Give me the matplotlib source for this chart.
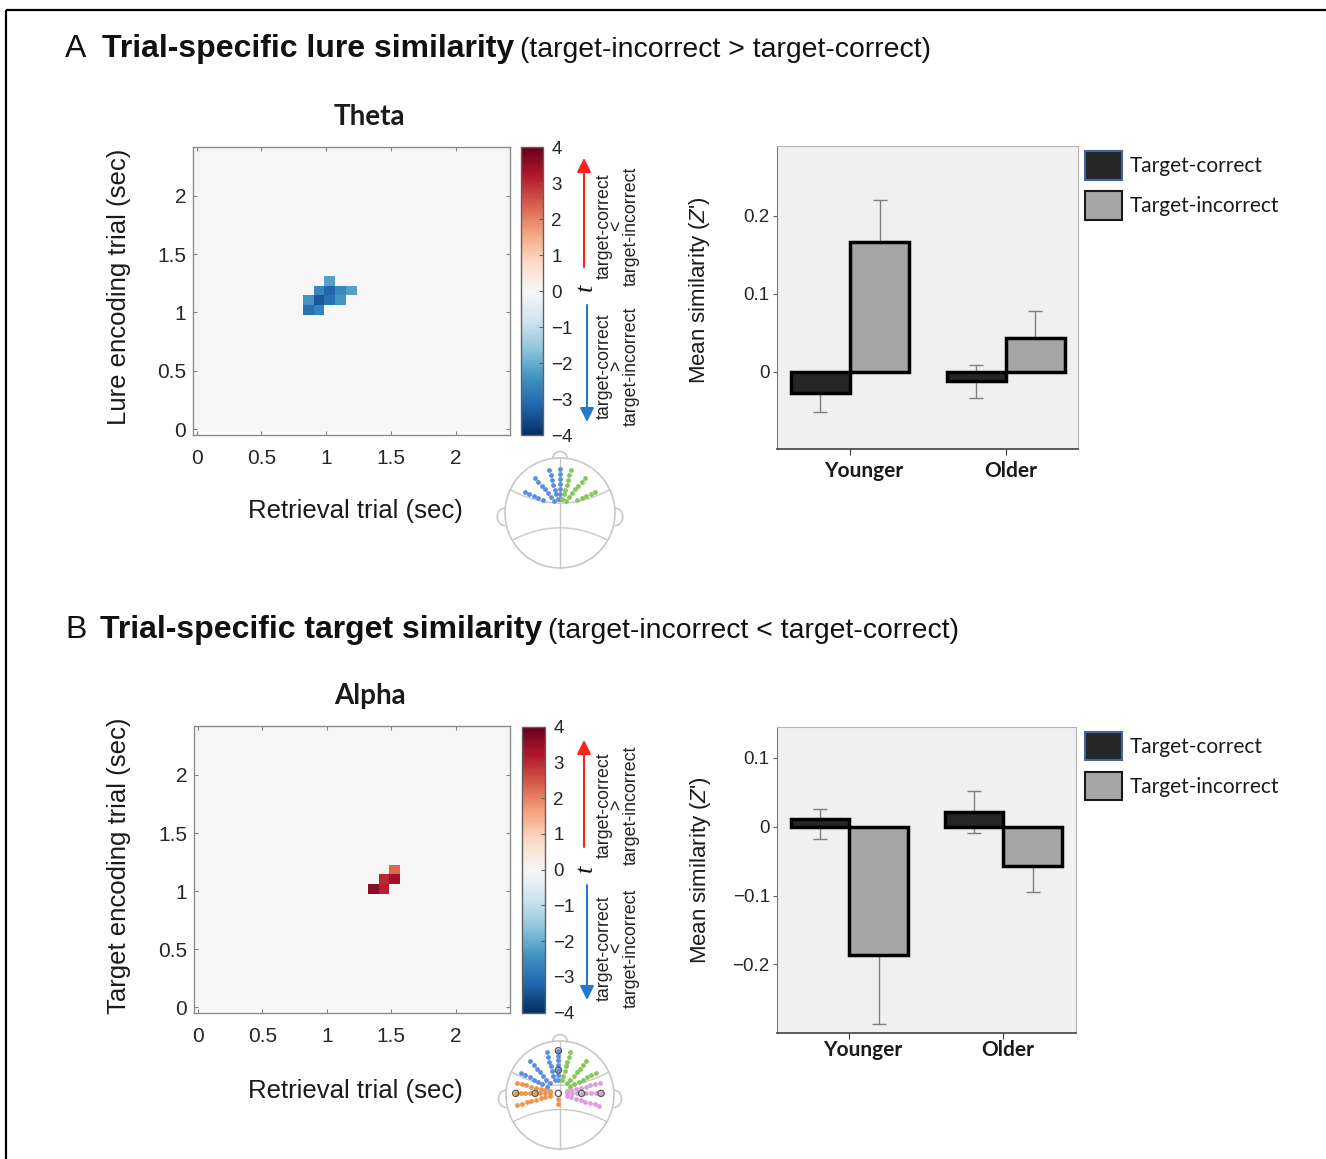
import numpy as np
import matplotlib
matplotlib.use("Agg")
import matplotlib.pyplot as plt
from matplotlib.patches import Arc, Circle, Patch
from matplotlib import ticker

plt.rcParams['font.family'] = ['Liberation Sans', 'DejaVu Sans']
plt.rcParams['mathtext.fontset'] = 'custom'
plt.rcParams['mathtext.it'] = 'Liberation Sans:italic'
plt.rcParams['mathtext.rm'] = 'Liberation Sans'

W, H = 1326, 1159

# ---------------- data ----------------
# t-maps: significant cells on a 1/12 s grid (row = lure/target encoding time, col = retrieval time)
step = 1 / 12
n_cells = 30
x_start, y_start = -0.014, -0.021

theta_rows = [15, 14, 14, 14, 14, 13, 13, 13, 13, 12, 12]
theta_cols = [12, 11, 12, 13, 14, 10, 11, 12, 13, 10, 11]
theta_t = [-2.2, -2.6, -3.2, -2.6, -2.2, -2.4, -3.4, -3.0, -2.4, -3.0, -2.7]

alpha_rows = [14, 13, 13, 12, 12]
alpha_cols = [18, 17, 18, 16, 17]
alpha_t = [2.3, 3.0, 3.4, 3.6, 3.1]

time_ticks = [0, 0.5, 1, 1.5, 2]
cbar_ticks = [-4, -3, -2, -1, 0, 1, 2, 3, 4]

groups = ["Younger", "Older"]
lure_correct = [-0.027, -0.012]
lure_correct_err = [0.024, 0.021]
lure_incorrect = [0.166, 0.044]
lure_incorrect_err = [0.054, 0.034]

target_correct = [0.011, 0.021]
target_correct_lo = [0.029, 0.031]
target_correct_hi = [0.014, 0.031]
target_incorrect = [-0.186, -0.0575]
target_incorrect_err = [0.101, 0.038]

# electrode fans on the head icons (spoke angles in deg, dot radii)
theta_blue = [90, 106, 130, 156]
theta_green = [74, 50, 24]
theta_radii = [0.16, 0.25, 0.34, 0.43, 0.52, 0.61, 0.70]

alpha_blue = [90, 106, 131, 151]
alpha_green = [74, 49, 29]
alpha_upper_radii = [0.25, 0.34, 0.43, 0.52, 0.61, 0.70, 0.79]
alpha_orange = [166, 180, 196]
alpha_purple = [14, 0, -17]
alpha_side_radii = [0.16, 0.25, 0.34, 0.43, 0.52, 0.61, 0.70, 0.79]
ring_angles = [0, 90, 180]
ring_radii = [0.43, 0.79]

C_BLUE, C_GREEN, C_ORANGE, C_PURPLE = '#5b8ee0', '#86c75a', '#f0944a', '#d9a0dc'


def box(l, t, r, b):
    return [l / W, 1 - b / H, (r - l) / W, (b - t) / H]


fig = plt.figure(figsize=(W / 100, H / 100), dpi=100)


def heatmap(rect, cb_rect, rows, cols, vals, title, ylabel, lab_xy, ylab_xy):
    ax = fig.add_axes(box(*rect))
    m = np.zeros((n_cells, n_cells))
    m[rows, cols] = vals
    ex = x_start + step * np.arange(n_cells + 1)
    ey = y_start + step * np.arange(n_cells + 1)
    mesh = ax.pcolormesh(ex, ey, m, cmap='RdBu_r', vmin=-4, vmax=4, shading='flat')
    ax.set_xlim(-0.026, 2.42)
    ax.set_ylim(-0.05, 2.42)
    ax.set_xticks(time_ticks)
    ax.set_yticks(time_ticks)
    ax.set_xticklabels([f'{v:g}' for v in time_ticks])
    ax.set_yticklabels([f'{v:g}' for v in time_ticks])
    ax.tick_params(direction='in', length=3, width=0.8, color='#808080',
                   top=True, right=True, labelsize=15, labelcolor='#262626')
    ax.tick_params(axis='x', pad=10)
    ax.tick_params(axis='y', pad=5)
    for s in ax.spines.values():
        s.set_color('#8c8c8c')
        s.set_linewidth(1)
    ax.text(0.555, 1.104, title, transform=ax.transAxes, ha='center', va='center',
            fontsize=20, fontweight='bold', family='Lato', color='#1a1a1a')
    ax.text(lab_xy[0], lab_xy[1], 'Retrieval trial (sec)', transform=ax.transAxes,
            ha='center', va='center', fontsize=18.5, color='#1a1a1a')
    ax.text(ylab_xy[0], ylab_xy[1], ylabel, transform=ax.transAxes, rotation=90,
            ha='center', va='center', fontsize=18.5, color='#1a1a1a')

    cax = fig.add_axes(box(*cb_rect))
    cb = fig.colorbar(mesh, cax=cax, ticks=cbar_ticks)
    cb.ax.set_yticklabels([str(v).replace('-', '\u2212') for v in cbar_ticks])
    cb.ax.tick_params(direction='in', length=3, width=0.8, color='#606060',
                      labelsize=13.5, pad=6, labelcolor='#262626')
    cb.outline.set_edgecolor('#606060')
    cb.outline.set_linewidth(1)
    return ax


heatmap((193.3, 146.7, 510, 435), (521, 147, 543, 435),
        theta_rows, theta_cols, theta_t, 'Theta', 'Lure encoding trial (sec)',
        (0.5106, -0.2636), (-0.2346, 0.5133))
heatmap((194.3, 726, 510, 1013.3), (521.7, 726.7, 545, 1012.7),
        alpha_rows, alpha_cols, alpha_t, 'Alpha', 'Target encoding trial (sec)',
        (0.509, -0.2704), (-0.2385, 0.5127))


def bars(rect, correct, c_lo, c_hi, incorrect, i_lo, i_hi, ylim, yticks, xlim,
         ylab_xy, grp_y, leg_xy):
    ax = fig.add_axes(box(*rect))
    ax.set_facecolor('#f0f0f0')
    x = np.arange(len(groups))
    w = 0.38
    ax.errorbar(x - w / 2, correct, yerr=[c_lo, c_hi], fmt='none', ecolor='#7f7f7f',
                elinewidth=1, capsize=5, capthick=1, zorder=2)
    ax.errorbar(x + w / 2, incorrect, yerr=[i_lo, i_hi], fmt='none', ecolor='#7f7f7f',
                elinewidth=1, capsize=5, capthick=1, zorder=2)
    ax.bar(x - w / 2, correct, w, color='#262626', edgecolor='black', linewidth=2.5, zorder=3)
    ax.bar(x + w / 2, incorrect, w, color='#a6a6a6', edgecolor='black', linewidth=2.5, zorder=3)
    ax.set_xlim(*xlim)
    ax.set_ylim(*ylim)
    ax.set_xticks(x)
    ax.set_xticklabels([])
    # group names sit a little right of their ticks in the original
    for xi, name, dx in zip(x, groups, [0.085, 0.03]):
        ax.text(xi + dx, grp_y, name, transform=ax.get_xaxis_transform(), ha='center', va='center',
                family='Lato', fontweight='bold', fontsize=15, color='#1a1a1a')
    ax.set_yticks(yticks)
    ax.yaxis.set_major_formatter(ticker.FuncFormatter(
        lambda v, p: '0' if abs(v) < 1e-9 else f'{v:g}'.replace('-', '\u2212')))
    ax.tick_params(axis='y', length=3, width=0.8, color='#606060', labelsize=13.5,
                   pad=2, labelcolor='#262626')
    ax.tick_params(axis='x', length=4, width=0.8, color='#404040')
    ax.spines['top'].set_color('#b4b4b4')
    ax.spines['right'].set_color('#b4b4b4')
    ax.spines['left'].set_color('#7a7a7a')
    ax.spines['bottom'].set_color('#404040')
    ax.spines['bottom'].set_linewidth(1.2)
    ax.text(ylab_xy[0], ylab_xy[1], r"Mean similarity ($Z$')", transform=ax.transAxes,
            rotation=90, ha='center', va='center', fontsize=16, color='#1a1a1a')
    handles = [Patch(facecolor='#262626', edgecolor='#41689c', linewidth=1.5),
               Patch(facecolor='#a6a6a6', edgecolor='#1a1a1a', linewidth=1.5)]
    leg = ax.legend(handles, ['Target-correct', 'Target-incorrect'], loc='upper left',
                    bbox_to_anchor=leg_xy, frameon=False, borderpad=0, borderaxespad=0,
                    handlelength=1.78, handleheight=1.72, labelspacing=0.56, handletextpad=0.38,
                    prop={'family': 'Lato', 'size': 15})
    for t in leg.get_texts():
        t.set_color('#1a1a1a')
    return ax


bars((776.7, 146, 1078, 449.3), lure_correct, lure_correct_err, lure_correct_err,
     lure_incorrect, lure_incorrect_err, lure_incorrect_err,
     (-0.099, 0.289), [0, 0.1, 0.2], (-0.471, 1.464), (-0.2546, 0.525), -0.072, (1.023, 0.983))
bars((776.7, 727.3, 1075.7, 1032.7), target_correct, target_correct_lo, target_correct_hi,
     target_incorrect, target_incorrect_err, target_incorrect_err,
     (-0.299, 0.144), [-0.2, -0.1, 0, 0.1], (-0.471, 1.470), (-0.2565, 0.533), -0.057, (1.031, 0.985))


# ---------------- head icons ----------------
def head(cx, cy, r, fans, rings, origin):
    half = 1.3 * r
    ax = fig.add_axes(box(cx - half, cy - half, cx + half, cy + half))
    ax.set_xlim(-1.3, 1.3)
    ax.set_ylim(-1.3, 1.3)
    ax.set_aspect('equal')
    ax.axis('off')
    lc = '#c8c8c8'
    ax.add_patch(Circle((0, 0), 1, fill=False, ec=lc, lw=1.2))
    ax.add_patch(Arc((0, 0.98), 0.27, 0.28, theta1=0, theta2=180, ec=lc, lw=1.2))
    ax.add_patch(Arc((-1.0, -0.07), 0.28, 0.32, theta1=90, theta2=270, ec=lc, lw=1.2))
    ax.add_patch(Arc((1.0, -0.07), 0.28, 0.32, theta1=-90, theta2=90, ec=lc, lw=1.2))
    xs = np.linspace(-0.9, 0.9, 60)
    ax.plot(xs, 0.18 + 0.3 * xs ** 2, color=lc, lw=1)
    xs = np.linspace(-0.84, 0.84, 60)
    ax.plot(xs, -0.27 - 0.3 * xs ** 2, color=lc, lw=1)
    ax.plot([0, 0], [-1, 1], color=lc, lw=1)
    for angles, radii, col, floor in fans:
        for a in angles:
            rr = np.array(radii)
            px = origin[0] + rr * np.cos(np.radians(a))
            py = origin[1] + rr * np.sin(np.radians(a))
            keep = py > floor(px)
            ax.scatter(px[keep], py[keep], s=12, color=col, lw=0, zorder=3)
    if rings:
        for a in ring_angles:
            rr = np.array(ring_radii)
            ax.scatter(origin[0] + rr * np.cos(np.radians(a)), origin[1] + rr * np.sin(np.radians(a)),
                       s=20, facecolor='none', edgecolor='#555555', lw=0.9, zorder=4)
        ax.scatter([origin[0]], [origin[1]], s=20, facecolor='none', edgecolor='#555555', lw=0.9, zorder=4)


def above_arc(x):
    return 0.2 + 0.3 * x ** 2


def anything(x):
    return -np.ones_like(x) * 2


head(560, 513, 55,
     [(theta_blue, theta_radii, C_BLUE, above_arc), (theta_green, theta_radii, C_GREEN, above_arc)],
     False, (0, 0.1))
head(560, 1095, 54,
     [(alpha_blue, alpha_upper_radii, C_BLUE, anything), (alpha_green, alpha_upper_radii, C_GREEN, anything),
      (alpha_orange, alpha_side_radii, C_ORANGE, anything), (alpha_purple, alpha_side_radii, C_PURPLE, anything),
      ([270], [0.1, 0.2], C_ORANGE, anything)],
     True, (-0.03, 0.03))

# ---------------- overlay: titles, arrows, frame ----------------
ov = fig.add_axes([0, 0, 1, 1])
ov.set_xlim(0, W)
ov.set_ylim(H, 0)
ov.axis('off')

ov.plot([6, W], [10, 10], color='black', lw=1.6, solid_capstyle='butt')
ov.plot([6, 6], [10, H], color='black', lw=1.6, solid_capstyle='butt')

ov.text(65, 57, 'A', fontsize=23, va='baseline', color='#111111')
ov.text(102, 57, 'Trial-specific lure similarity', fontsize=23, fontweight='bold',
        va='baseline', color='#111111')
ov.text(520, 57, '(target-incorrect > target-correct)', fontsize=20.4, va='baseline', color='#111111')
ov.text(65, 638, 'B', fontsize=23, va='baseline', color='#111111')
ov.text(100, 638, 'Trial-specific target similarity', fontsize=23, fontweight='bold',
        va='baseline', color='#111111')
ov.text(548, 638, '(target-incorrect < target-correct)', fontsize=20.4, va='baseline', color='#111111')


def t_legend(y_red0, y_red1, y_t, y_blue0, y_blue1, up_c, up_s, lo_c, lo_s):
    ov.annotate('', xy=(584, y_red1), xytext=(584, y_red0),
                arrowprops=dict(arrowstyle='-|>', color='#ff2020', lw=1.5, mutation_scale=21,
                                shrinkA=0, shrinkB=0))
    ov.annotate('', xy=(587, y_blue1), xytext=(587, y_blue0),
                arrowprops=dict(arrowstyle='-|>', color='#1f7ad0', lw=1.5, mutation_scale=21,
                                shrinkA=0, shrinkB=0))
    ov.text(586, y_t, 't', family=['Liberation Serif', 'DejaVu Serif'], style='italic',
            fontsize=19, ha='center', va='center', rotation=90, color='#111111')
    for (yc, sym) in ((up_c, up_s), (lo_c, lo_s)):
        ov.text(617.5, yc, f'target-correct\n{sym}\ntarget-incorrect', rotation=90,
                ha='center', va='center', multialignment='center', linespacing=0.74,
                fontsize=12.8, color='#222222')


t_legend(267, 158, 287, 305, 422, 226, '<', 366, '>')
t_legend(847, 740, 868, 885, 1000, 805, '>', 948, '<')

fig.savefig('out.png', dpi=100)
